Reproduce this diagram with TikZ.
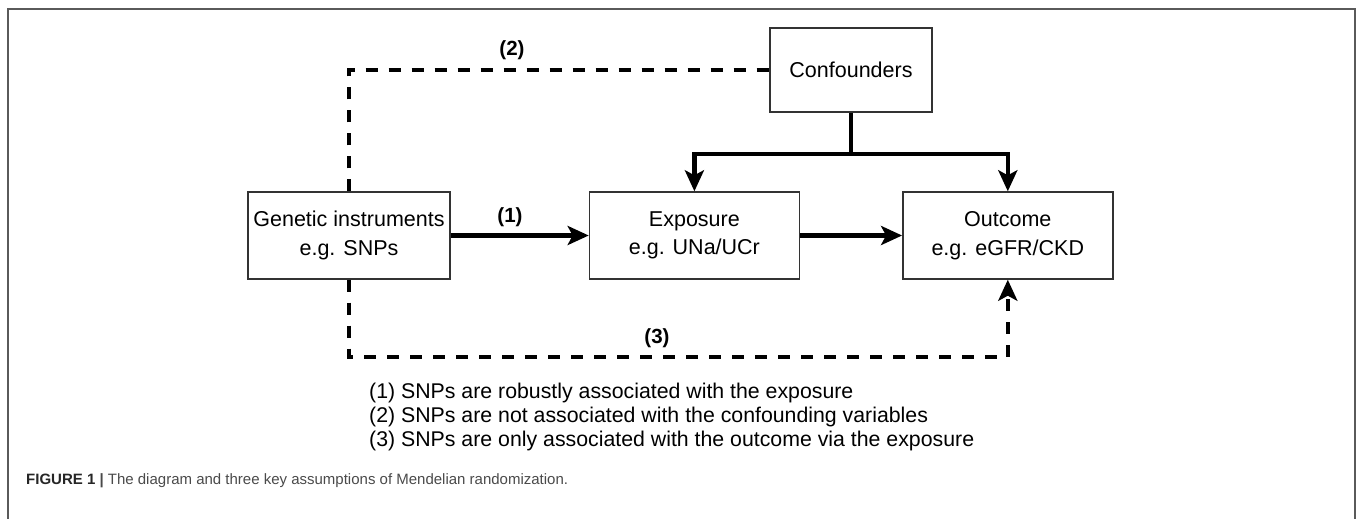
\documentclass[tikz,border=0pt]{standalone}
\usepackage{fontspec}
\setmainfont{Liberation Sans}
\usetikzlibrary{arrows.meta,positioning}

\definecolor{boxline}{HTML}{333333}
\definecolor{framegray}{HTML}{5A5A5A}
\definecolor{captiongray}{HTML}{4A4A4A}

\begin{document}
\begin{tikzpicture}[
  x=1pt, y=-1pt,
  box/.style={draw=boxline, line width=1.4pt, text centered, align=center, minimum width=210pt, minimum height=87pt, inner sep=2pt, font=\fontsize{21.5}{28.5}\selectfont},
  arrowline/.style={line width=4.2pt, -{Stealth[length=21pt, width=19pt, inset=5pt]}},
  plainline/.style={line width=4.2pt},
  dashline/.style={line width=4pt, dash pattern=on 12pt off 11pt},
  lbl/.style={font=\bfseries\fontsize{20.5}{24}\selectfont, inner sep=0pt},
  legend/.style={font=\fontsize{21.3}{24.3}\selectfont, align=left, anchor=west, inner sep=0pt}
]
\useasboundingbox (0,0) rectangle (1357,519);

% Outer frame
\draw[framegray, line width=1.5pt] (8,519) |- (1355,9) -- (1355,519);

% Nodes
\node[box, minimum width=202pt] (gen) at (349,235.5) {Genetic instruments\\e.g. SNPs};
\node[box, right=138pt of gen] (exp) {Exposure\\e.g. UNa/UCr};
\node[box, right=102pt of exp] (out) {Outcome\\e.g. eGFR/CKD};
\node[box, minimum width=162pt, minimum height=84pt] (conf) at (851,70) {Confounders};

% Solid paths
\draw[arrowline] (gen.east) -- (exp.west);
\draw[arrowline] (exp.east) -- (out.west);
\draw[plainline] (conf.south) -- ++(0,41.5) coordinate (split);
\draw[arrowline] (split) -| (exp.north);
\draw[arrowline] (split) -| (out.north);

% Dashed paths
\draw[dashline] (gen.north) |- (conf.west);
\draw[dashline, -{Stealth[length=21pt, width=19pt, inset=5pt]}] (gen.south) -- ++(0,77) -| (out.south);

% Path labels
\node[lbl] (l1) at (510,217) {(1)};
\node[lbl] (l2) at (512,50) {(2)};
\node[lbl] (l3) at (657,338) {(3)};

% Legend
\node[legend] (key1) at (369,393) {(1) SNPs are robustly associated with the exposure};
\node[legend] (key2) at (369,417) {(2) SNPs are not associated with the confounding variables};
\node[legend] (key3) at (369,441) {(3) SNPs are only associated with the outcome via the exposure};

% Caption
\node[anchor=west, inner sep=0pt, text=captiongray, font=\fontsize{15}{17}\selectfont] (cap) at (26,481)
  {{\bfseries\color{black!85}FIGURE 1} {\bfseries|} The diagram and three key assumptions of Mendelian randomization.};
\end{tikzpicture}
\end{document}
